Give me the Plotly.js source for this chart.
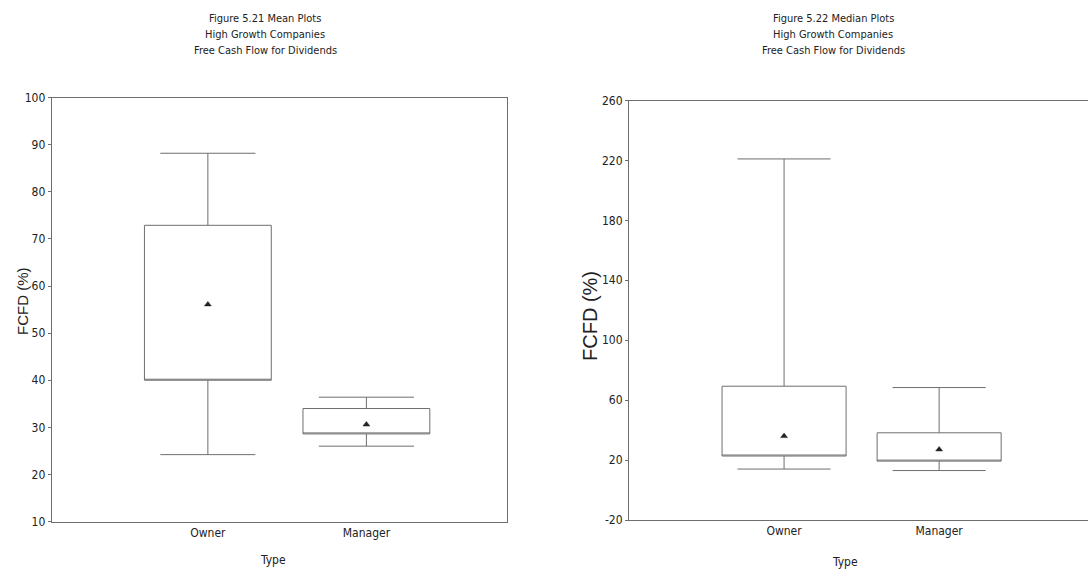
<!DOCTYPE html>
<html>
<head>
<meta charset="utf-8">
<script src="https://cdn.plot.ly/plotly-3.0.1.min.js"></script>
<style>html,body{margin:0;padding:0;background:#fff;}#chart{width:1088px;height:582px;}</style>
</head>
<body>
<div id="chart"></div>
<script>
// Categories
var categories = ['Owner', 'Manager'];

// Figure 5.21 Mean Plots (FCFD %)
var meanLowWhisker = [24.2, 26.0];
var meanBoxLow     = [40.0, 28.6];
var meanBoxHigh    = [72.9, 34.0];
var meanHighWhisker= [88.2, 36.4];
var meanCenter     = [56.1, 30.6];

// Figure 5.22 Median Plots (FCFD %)
var medLowWhisker  = [14.0, 13.0];
var medBoxLow      = [22.7, 19.3];
var medBoxHigh     = [69.3, 38.2];
var medHighWhisker = [221.0, 68.4];
var medCenter      = [36.0, 27.1];

// Tick labels
var leftTicks  = [10, 20, 30, 40, 50, 60, 70, 80, 90, 100];
var leftTickText = ['10', '20', '30', '40', '50', '60', '70', '80', '90', '100'];
var rightTicks = [-20, 20, 60, 100, 140, 180, 220, 260];
var rightTickText = ['-20', '20', '60', '100', '140', '180', '220', '260'];

var narrow = 'Liberation Sans Narrow, Arial Narrow, DejaVu Sans Condensed, sans-serif';
var regular = 'Liberation Sans, Arial, sans-serif';
var lineCol = '#6e6e6e';
var textCol = '#222';

function boxTrace(q1, q3, lo, hi, xa, ya) {
  return {
    type: 'box', x: categories, q1: q1, median: q1, q3: q3,
    lowerfence: lo, upperfence: hi,
    width: 0.8, whiskerwidth: 0.75,
    line: {color: lineCol, width: 1},
    fillcolor: 'rgba(0,0,0,0)',
    xaxis: xa, yaxis: ya, showlegend: false, hoverinfo: 'skip'
  };
}
function markTrace(y, xa, ya) {
  return {
    type: 'scatter', mode: 'markers', x: categories, y: y,
    marker: {symbol: 'triangle-up', size: 6, color: '#222', line: {color: '#222', width: 0.5}},
    xaxis: xa, yaxis: ya, showlegend: false, hoverinfo: 'skip'
  };
}

var data = [
  boxTrace(meanBoxLow, meanBoxHigh, meanLowWhisker, meanHighWhisker, 'x', 'y'),
  markTrace(meanCenter, 'x', 'y'),
  boxTrace(medBoxLow, medBoxHigh, medLowWhisker, medHighWhisker, 'x2', 'y2'),
  markTrace(medCenter, 'x2', 'y2')
];

function W(px) { return px / 1088; }
function H(py) { return 1 - py / 582; }

function ann(text, x, y, size, fam, angle) {
  return {text: text, x: W(x), y: H(y), xref: 'paper', yref: 'paper',
    xanchor: 'center', yanchor: 'middle', showarrow: false,
    textangle: angle || 0, font: {family: fam, size: size, color: textCol}};
}

var layout = {
  width: 1088, height: 582,
  margin: {l: 0, r: 0, t: 0, b: 0},
  paper_bgcolor: '#fff', plot_bgcolor: '#fff',
  showlegend: false,
  xaxis: {
    domain: [W(51.7), W(506.7)], anchor: 'y', type: 'category',
    range: [-0.985, 1.885], showgrid: false, zeroline: false,
    showline: true, mirror: true, linecolor: lineCol, linewidth: 1,
    ticks: '', tickfont: {family: narrow, size: 12, color: textCol}
  },
  yaxis: {
    domain: [H(521.5), H(97.7)], anchor: 'x', range: [10, 100],
    tickvals: leftTicks, ticktext: leftTickText, showgrid: false, zeroline: false,
    showline: true, mirror: true, linecolor: lineCol, linewidth: 1,
    ticks: 'outside', ticklen: 3, tickcolor: lineCol,
    tickfont: {family: narrow, size: 12, color: textCol}
  },
  xaxis2: {
    domain: [W(629), 1], anchor: 'y2', type: 'category',
    range: [-1.0, 1.96], showgrid: false, zeroline: false,
    showline: true, mirror: true, linecolor: lineCol, linewidth: 1,
    ticks: '', tickfont: {family: narrow, size: 12, color: textCol}
  },
  yaxis2: {
    domain: [H(520), H(100.5)], anchor: 'x2', range: [-20, 260],
    tickvals: rightTicks, ticktext: rightTickText, showgrid: false, zeroline: false,
    showline: true, mirror: false, linecolor: lineCol, linewidth: 1,
    ticks: 'outside', ticklen: 3, tickcolor: lineCol,
    tickfont: {family: narrow, size: 12, color: textCol}
  },
  annotations: [
    ann('Figure 5.21 Mean Plots', 265, 18, 11, narrow),
    ann('High Growth Companies', 265, 34, 11, narrow),
    ann('Free Cash Flow for Dividends', 265, 50, 11, narrow),
    ann('Figure 5.22 Median Plots', 833, 18, 11, narrow),
    ann('High Growth Companies', 833, 34, 11, narrow),
    ann('Free Cash Flow for Dividends', 833, 50, 11, narrow),
    ann('FCFD (%)', 22, 301, 15, regular, -90),
    ann('FCFD (%)', 590, 316, 20, regular, -90),
    ann('Type', 273, 560, 12, narrow),
    ann('Type', 845, 562, 12, narrow)
  ]
};

Plotly.newPlot('chart', data, layout, {displayModeBar: false, staticPlot: true});
</script>
</body>
</html>
